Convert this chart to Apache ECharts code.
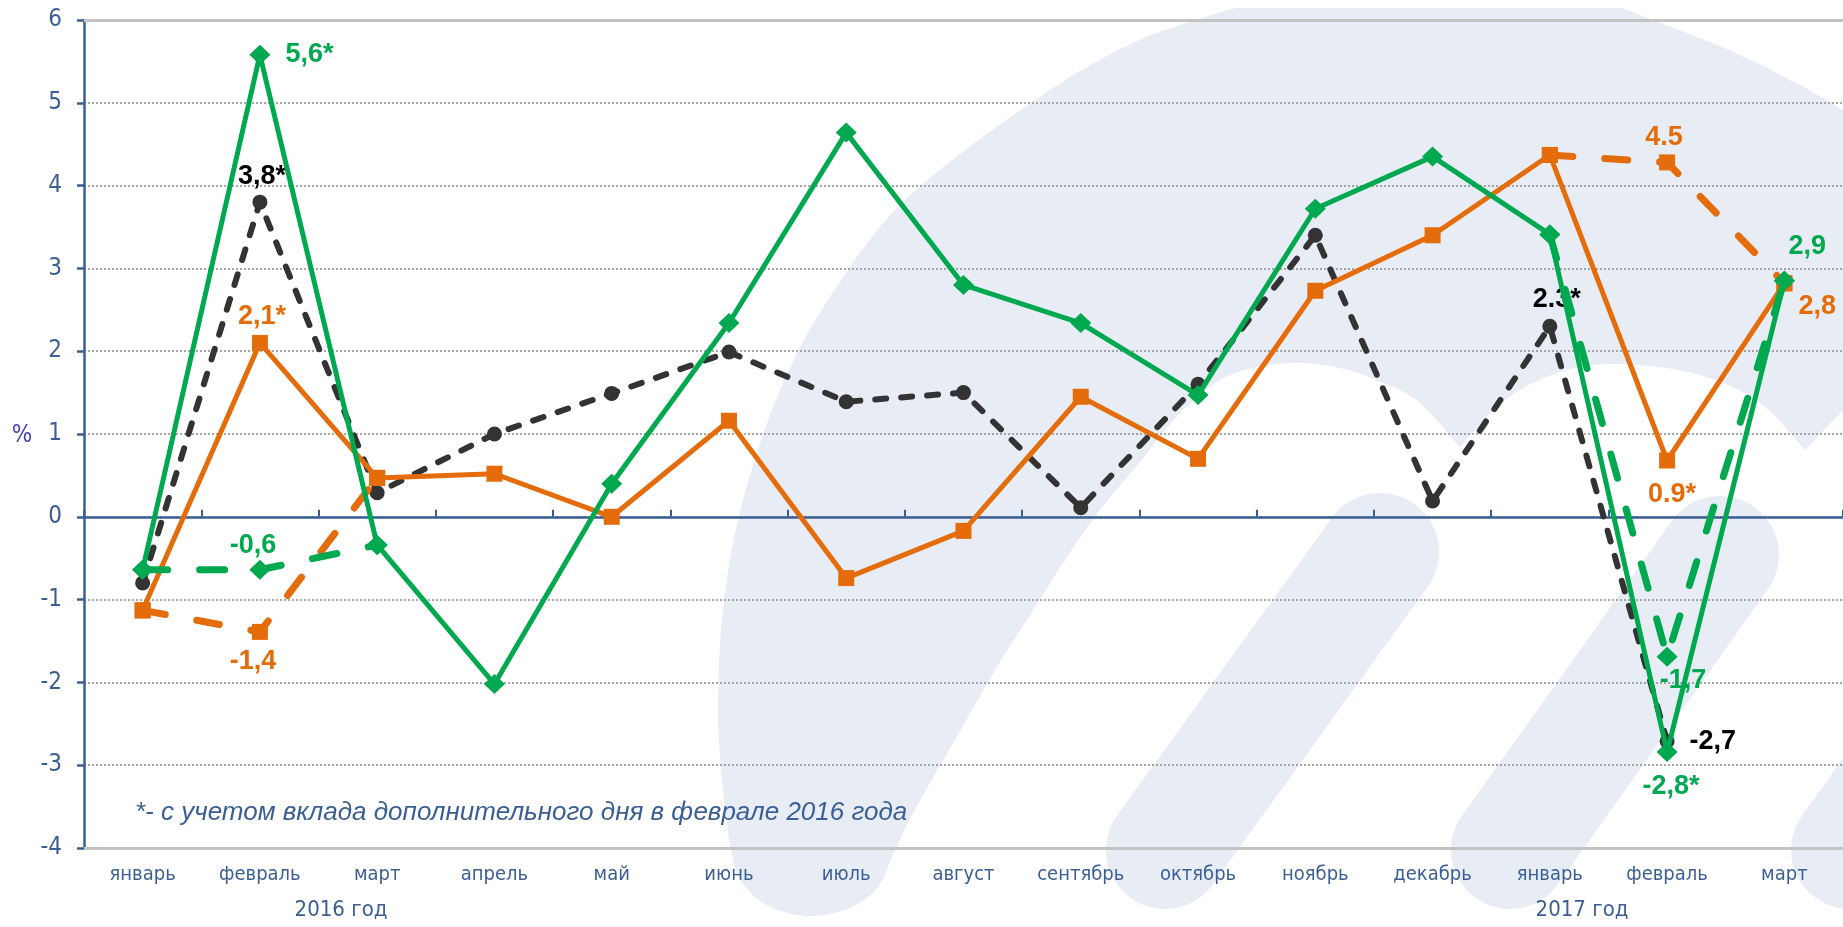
<!DOCTYPE html>
<html><head><meta charset="utf-8">
<script src="https://cdn.jsdelivr.net/npm/echarts@6/dist/echarts.min.js"></script>
<style>html,body{margin:0;padding:0;background:#fff;}#c{width:1843px;height:927px;}</style>
</head><body><div id="c"></div>
<script>
// ---------- data ----------
const months = ['январь','февраль','март','апрель','май','июнь','июль','август','сентябрь','октябрь','ноябрь','декабрь','январь','февраль','март'];
const yearLabels = ['2016 год','2017 год'];
const yMin = -4, yMax = 6, yStep = 1;
const footnote = '*- с учетом вклада дополнительного дня в феврале 2016 года';
const unitLabel = '%';

const greenSolid   = [-0.64, 5.58, -0.34, -2.02, 0.40, 2.34, 4.64, 2.80, 2.34, 1.47, 3.72, 4.35, 3.41, -2.84, 2.85];
const greenDashed  = [-0.64, -0.64, -0.34, null, null, null, null, null, null, null, null, null, 3.41, -1.69, 2.85];
const orangeSolid  = [-1.13, 2.10, 0.47, 0.52, 0.00, 1.16, -0.74, -0.17, 1.45, 0.70, 2.73, 3.40, 4.37, 0.68, 2.82];
const orangeDashed = [-1.13, -1.39, 0.47, null, null, null, null, null, null, null, null, null, 4.37, 4.28, 2.82];
const blackDashed  = [-0.80, 3.80, 0.29, 1.00, 1.49, 1.99, 1.39, 1.50, 0.11, 1.60, 3.40, 0.19, 2.30, -2.71, null];

const greenSolidLabels   = [null,'5,6*',null,null,null,null,null,null,null,null,null,null,null,'-2,8*','2,9'];
const greenDashedLabels  = [null,'-0,6',null,null,null,null,null,null,null,null,null,null,null,'-1,7',null];
const orangeSolidLabels  = [null,'2,1*',null,null,null,null,null,null,null,null,null,null,null,'0.9*','2,8'];
const orangeDashedLabels = [null,'-1,4',null,null,null,null,null,null,null,null,null,null,null,'4.5',null];
const blackLabels        = [null,'3,8*',null,null,null,null,null,null,null,null,null,null,'2.3*','-2,7',null];

// ---------- styles ----------
const GREEN = '#00a84f', ORANGE = '#e46c0a', BLACK = '#333333', BLUE = '#3b5f94', WM = '#e8edf5';
const NARROW = '"DejaVu Sans Condensed", "Liberation Sans", sans-serif';
const LBL = 27;
const labelPlace = {
  gs: {1:{pos:'right',d:15}, 13:{pos:'bottom',d:11,off:[4,0]}, 14:{pos:'top',d:11,off:[23,0]}},
  gd: {1:{pos:'top',d:1,off:[-7,0]}, 13:{pos:'bottom',d:0,off:[16,0]}},
  os: {1:{pos:'top',d:5,off:[2,0]}, 13:{pos:'bottom',d:13,off:[5,0]}, 14:{pos:'bottom',d:2,off:[33,0]}},
  od: {1:{pos:'bottom',d:8,off:[-7,0]}, 13:{pos:'top',d:3,off:[-3,0]}},
  bk: {1:{pos:'top',d:5,off:[2,0]}, 12:{pos:'top',d:6,off:[7,0]}, 13:{pos:'right',d:15}}
};
function mkData(values, labels, place, color) {
  return values.map((v, i) => {
    if (!labels[i] || v == null) return v;
    const p = place[i];
    return {value: v, label: {show: true, formatter: labels[i], position: p.pos, distance: p.d,
      offset: p.off || [0, 0], color: color, fontSize: LBL, fontWeight: 'bold', fontFamily: 'Liberation Sans'}};
  });
}
function lineSeries(name, data, color, symbol, size, width, dash, z) {
  return {name, type: 'line', data, z, symbol, symbolSize: size, showSymbol: true, showAllSymbol: true,
    connectNulls: false, smooth: false, silent: true, animation: false,
    itemStyle: {color: color},
    lineStyle: {color: color, width: width, type: dash || 'solid', cap: dash ? 'round' : 'butt', join: 'round'},
    emphasis: {disabled: true}};
}

// ---------- watermark (decoration) ----------
function catmull(pts, seg) {
  const out = [];
  for (let i = 0; i < pts.length - 1; i++) {
    const p0 = pts[Math.max(i - 1, 0)], p1 = pts[i], p2 = pts[i + 1], p3 = pts[Math.min(i + 2, pts.length - 1)];
    for (let t = 0; t < seg; t++) {
      const s = t / seg, s2 = s * s, s3 = s2 * s;
      const f = k => 0.5 * ((2 * p1[k]) + (-p0[k] + p2[k]) * s + (2 * p0[k] - 5 * p1[k] + 4 * p2[k] - p3[k]) * s2 + (-p0[k] + 3 * p1[k] - 3 * p2[k] + p3[k]) * s3);
      out.push([f(0), f(1)]);
    }
  }
  out.push(pts[pts.length - 1]);
  return out;
}
const runA = [[1460,447],[1420,403],[1383,383],[1340,368],[1290,363],[1230,375],[1183,410],[1140,462],[1100,510],[1065,560],[1030,615],[1000,662],[952,745],[912,815],[893,855],[878,887],[850,908],[812,916],[775,909],[748,890],[733,860],[722,780],[718,700],[724,600],[743,500],[780,390],[828,300],[905,200],[1035,100],[1135,42],[1234,8]];
const runB = [[1622,8],[1729,50],[1800,85],[1843,110]];
const runD = [[1805,450],[1760,403],[1700,375],[1621,364],[1560,372],[1505,400],[1460,447]];
const outline = [].concat(catmull(runA, 8), catmull(runB, 8), [[1843,410]], catmull(runD, 8));
const stems = [[[1165,850],[1380,552]], [[1510,850],[1720,555]], [[1850,850],[2060,555]]];
const graphics = [{type:'polygon', z:-10, silent:true, shape:{points: outline}, style:{fill: WM}}];
stems.forEach(s => graphics.push({type:'polyline', z:-10, silent:true, shape:{points: s}, style:{stroke: WM, lineWidth: 118, lineCap:'round', fill: null}}));
graphics.push({type:'text', z:5, x:22, y:436, silent:true, style:{text: unitLabel, fill:'#4343b0', fontSize:24, fontFamily: NARROW, align:'center', verticalAlign:'middle'}});
graphics.push({type:'text', z:5, x:135, y:813, silent:true, style:{text: footnote, fill: BLUE, fontSize:26, fontStyle:'italic', fontFamily:'Liberation Sans', align:'left', verticalAlign:'middle'}});
graphics.push({type:'text', z:5, x:341, y:910, silent:true, style:{text: yearLabels[0], fill: BLUE, fontSize:22, fontFamily: NARROW, align:'center', verticalAlign:'middle'}});
graphics.push({type:'text', z:5, x:1582, y:910, silent:true, style:{text: yearLabels[1], fill: BLUE, fontSize:22, fontFamily: NARROW, align:'center', verticalAlign:'middle'}});

const chart = echarts.init(document.getElementById('c'), null, {renderer: 'canvas'});
chart.setOption({
  animation: false,
  backgroundColor: '#ffffff',
  grid: {left: 84, right: 0, top: 20, bottom: 79, containLabel: false},
  graphic: graphics,
  xAxis: [
    {type:'category', data: months, position:'bottom', boundaryGap:true,
     axisLine:{onZero:false, lineStyle:{color:'#c3c3c3', width:3}}, axisTick:{show:false},
     axisLabel:{color: BLUE, fontFamily: NARROW, fontSize:20, margin:17, interval:0}, splitLine:{show:false}},
    {type:'category', data: months, position:'bottom', boundaryGap:true,
     axisLine:{onZero:true, lineStyle:{color: BLUE, width:2.5}},
     axisTick:{show:true, inside:true, length:7, interval:0, lineStyle:{color: BLUE, width:2}},
     axisLabel:{show:false}, splitLine:{show:false}},
    {type:'category', data: months, position:'top', boundaryGap:true,
     axisLine:{onZero:false, lineStyle:{color:'#c3c3c3', width:3}}, axisTick:{show:false},
     axisLabel:{show:false}, splitLine:{show:false}}
  ],
  yAxis: {type:'value', min: yMin, max: yMax, interval: yStep,
    axisLine:{show:true, onZero:false, lineStyle:{color: BLUE, width:2.5}},
    axisTick:{show:true, length:7, lineStyle:{color: BLUE, width:2.5}},
    axisLabel:{color: BLUE, fontFamily: NARROW, fontSize:24, margin:22},
    splitLine:{show:true, lineStyle:{color:'#8a8a8a', type:[2,2], width:1.5}}},
  series: [
    lineSeries('black', mkData(blackDashed, blackLabels, labelPlace.bk, '#000000'), BLACK, 'circle', 15, 6, [11,15], 2),
    lineSeries('orangeDashed', mkData(orangeDashed, orangeDashedLabels, labelPlace.od, ORANGE), ORANGE, 'rect', 16, 7, [23,32], 3),
    lineSeries('orangeSolid', mkData(orangeSolid, orangeSolidLabels, labelPlace.os, ORANGE), ORANGE, 'rect', 16, 5, null, 4),
    lineSeries('greenDashed', mkData(greenDashed, greenDashedLabels, labelPlace.gd, GREEN), GREEN, 'diamond', [21,20], 7, [25,32], 5),
    lineSeries('greenSolid', mkData(greenSolid, greenSolidLabels, labelPlace.gs, GREEN), GREEN, 'diamond', [21,20], 5, null, 6)
  ]
});
</script></body></html>
